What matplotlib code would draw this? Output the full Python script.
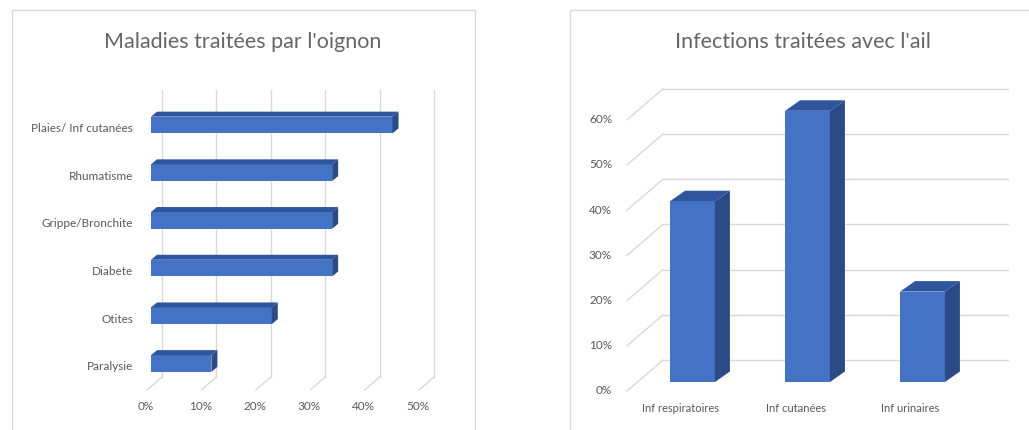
import matplotlib
matplotlib.use("Agg")
import matplotlib.pyplot as plt
from matplotlib.patches import Polygon, Rectangle

plt.rcParams['font.family'] = ['Lato', 'DejaVu Sans']

# ---------------- data ----------------
onion_categories = ["Paralysie", "Otites", "Diabete", "Grippe/Bronchite",
                    "Rhumatisme", "Plaies/ Inf cutanées"]
onion_values = [11.1, 22.2, 33.3, 33.3, 33.3, 44.4]
onion_ticks = [0, 10, 20, 30, 40, 50]
onion_title = "Maladies traitées par l'oignon"

garlic_categories = ["Inf respiratoires", "Inf cutanées", "Inf urinaires"]
garlic_values = [40, 60, 20]
garlic_ticks = [0, 10, 20, 30, 40, 50, 60]
garlic_title = "Infections traitées avec l'ail"

# ---------------- style ----------------
W, H = 1029, 430
FRONT = "#4472C4"
TOP = "#2F559E"
SIDE = "#2A4B86"
GRID = "#D9D9D9"
TXT = "#595959"
TXT_T = "#666666"

fig = plt.figure(figsize=(W / 100, H / 100), dpi=100)


def px_axes(x0, y0, x1, y1):
    return fig.add_axes([x0 / W, 1 - y1 / H, (x1 - x0) / W, (y1 - y0) / H])


# panel frames
for (x0, y0, x1, y1) in [(12, 10, 475, 440), (570, 10, 1040, 440)]:
    fig.patches.append(Rectangle((x0 / W, 1 - y1 / H), (x1 - x0) / W, (y1 - y0) / H,
                                 transform=fig.transFigure, fill=False,
                                 edgecolor=GRID, lw=1.0))

fig.text(243 / W, 1 - 42 / H, onion_title, ha="center", va="center",
         fontsize=15.5, color=TXT_T)
fig.text(803 / W, 1 - 42 / H, garlic_title, ha="center", va="center",
         fontsize=15.5, color=TXT_T)

# ---------------- left: horizontal 3D bars ----------------
PXU = 5.44   # px per %
CAT = 47.7   # px per category
X0PX, Y0PX = 151, 363.5
axL = px_axes(140, 85, 450, 395)
axL.set_xlim((140 - X0PX) / PXU, (450 - X0PX) / PXU)
axL.set_ylim((Y0PX - 395) / CAT, (Y0PX - 85) / CAT)
axL.axis("off")

back_dx = 11 / PXU
front_dx = -4 / PXU
y_back_bot = (Y0PX - 377) / CAT
y_top = (Y0PX - 90) / CAT
y_front = (Y0PX - 390) / CAT
for t in onion_ticks:
    axL.plot([t + back_dx, t + back_dx], [y_back_bot, y_top], color=GRID, lw=1,
             zorder=1, clip_on=False)
    axL.plot([t + back_dx, t + front_dx], [y_back_bot, y_front], color=GRID, lw=1,
             zorder=1, clip_on=False)
    axL.text(t + front_dx - 1 / PXU, (Y0PX - 407) / CAT, f"{t}%", ha="center",
             va="center", fontsize=8.5, color=TXT)

hL = 0.35
ddx = 6 / PXU
ddy = 5 / CAT
ys = list(range(len(onion_categories)))
axL.barh(ys, onion_values, height=hL, color=FRONT, zorder=3)
for y, v, lab in zip(ys, onion_values, onion_categories):
    top = y + hL / 2
    bot = y - hL / 2
    axL.add_patch(Polygon([(0, top), (v, top), (v + ddx, top + ddy), (ddx, top + ddy)],
                          closed=True, facecolor=TOP, edgecolor="none", zorder=3))
    axL.add_patch(Polygon([(v, bot), (v, top), (v + ddx, top + ddy), (v + ddx, bot + ddy)],
                          closed=True, facecolor=SIDE, edgecolor="none", zorder=3))
    axL.text((133 - X0PX) / PXU, y - 0.07, lab, ha="right", va="center",
             fontsize=8.5, color=TXT)

# ---------------- right: vertical 3D bars ----------------
PXV = 4.52   # px per %
CATR = 115   # px per category
XC0, YB0 = 692.5, 382
axR = px_axes(600, 80, 1020, 400)
axR.set_xlim((600 - XC0) / CATR, (1020 - XC0) / CATR)
axR.set_ylim((YB0 - 400) / PXV, (YB0 - 80) / PXV)
axR.axis("off")

back_dy = 22 / PXV
front_dy = -9 / PXV
x_back_l = (663 - XC0) / CATR
x_back_r = (1008 - XC0) / CATR
x_front = (627 - XC0) / CATR
for t in garlic_ticks:
    axR.plot([x_back_l, x_back_r], [t + back_dy, t + back_dy], color=GRID, lw=1,
             zorder=1, clip_on=False)
    axR.plot([x_back_l, x_front], [t + back_dy, t + front_dy], color=GRID, lw=1,
             zorder=1, clip_on=False)
    axR.text((612 - XC0) / CATR, t + front_dy, f"{t}%", ha="right", va="center",
             fontsize=8.5, color=TXT)

wR = 0.39
rdx = 15 / CATR
rdy = 10.5 / PXV
xs = list(range(len(garlic_categories)))
axR.bar(xs, garlic_values, width=wR, color=FRONT, zorder=3)
for x, v, lab in zip(xs, garlic_values, garlic_categories):
    l = x - wR / 2
    r = x + wR / 2
    axR.add_patch(Polygon([(l, v), (r, v), (r + rdx, v + rdy), (l + rdx, v + rdy)],
                          closed=True, facecolor=TOP, edgecolor="none", zorder=3))
    axR.add_patch(Polygon([(r, 0), (r, v), (r + rdx, v + rdy), (r + rdx, rdy)],
                          closed=True, facecolor=SIDE, edgecolor="none", zorder=3))
    axR.text(x - 12 / CATR, (YB0 - 408) / PXV, lab, ha="center", va="center",
             fontsize=8, color=TXT)

fig.savefig("out.png", dpi=100)
